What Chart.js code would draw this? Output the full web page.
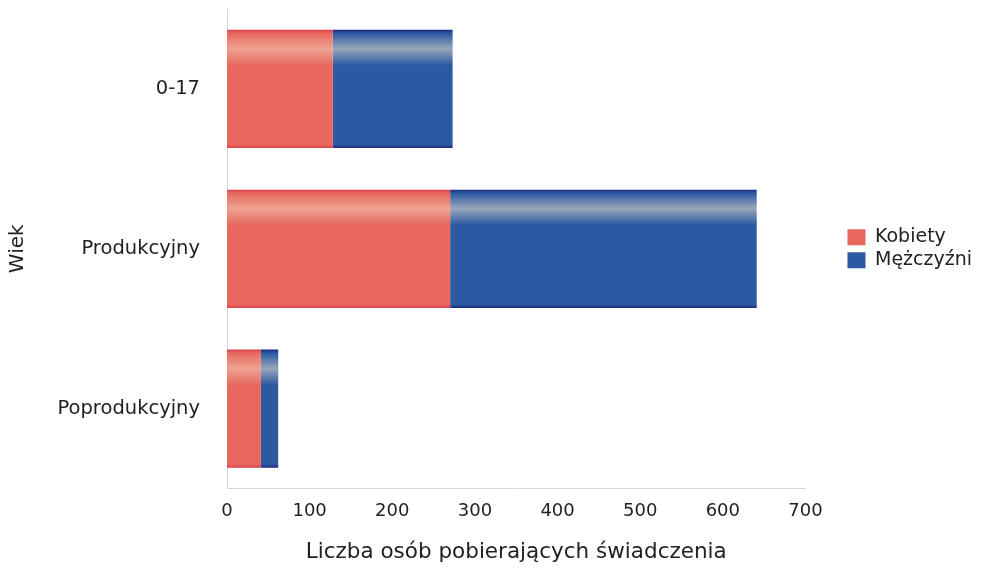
<!DOCTYPE html>
<html>
<head>
<meta charset="utf-8">
<script src="https://cdn.jsdelivr.net/npm/chart.js@4"></script>
<style>
  html, body { margin: 0; padding: 0; background: #fff; }
  #wrap { width: 985px; height: 568px; }
</style>
</head>
<body>
<div id="wrap"><canvas id="bar-chart" width="985" height="568"></canvas></div>
<script>
const categories = ["0-17", "Produkcyjny", "Poprodukcyjny"];
const kobiety = [128, 270, 41];
const mezczyzni = [145, 371, 21];
const xTicks = [0, 100, 200, 300, 400, 500, 600, 700];

const BAR_PCT = 0.74;

// glossy vertical gradient per bar, like the original
function barFill(edge, band, base) {
  return (ctx) => {
    const chart = ctx.chart;
    const y = chart.scales.y;
    if (!y || ctx.type !== "data") return base;
    const step = Math.abs(y.getPixelForValue(1) - y.getPixelForValue(0));
    const c = y.getPixelForValue(ctx.dataIndex);
    const h = step * BAR_PCT;
    const g = chart.ctx.createLinearGradient(0, c - h / 2, 0, c + h / 2);
    g.addColorStop(0, edge);
    g.addColorStop(0.03, base);
    g.addColorStop(0.16, band);
    g.addColorStop(0.3, base);
    g.addColorStop(0.97, base);
    g.addColorStop(1, edge);
    return g;
  };
}

const FAMILY = "'DejaVu Sans', sans-serif";

new Chart("bar-chart", {
  type: "bar",
  data: {
    labels: categories,
    datasets: [
      {
        label: "Kobiety",
        data: kobiety,
        backgroundColor: barFill("#d8404c", "#eea394", "#e8685e"),
        borderWidth: 0,
      },
      {
        label: "Mężczyźni",
        data: mezczyzni,
        backgroundColor: barFill("#1c2a80", "#9aa6ba", "#2c5aa2"),
        borderWidth: 0,
      },
    ],
  },
  options: {
    indexAxis: "y",
    responsive: false,
    animation: false,
    layout: { padding: { left: 6, right: 3, top: 9, bottom: 3 } },
    datasets: { bar: { barPercentage: BAR_PCT, categoryPercentage: 1 } },
    scales: {
      x: {
        stacked: true,
        min: 0,
        max: 700,
        afterBuildTicks: (axis) => {
          axis.ticks = xTicks.map((v) => ({ value: v }));
        },
        grid: { display: false, drawTicks: false },
        border: { display: true, color: "#d8d8d8", dash: [2, 3] },
        ticks: { color: "#222", font: { family: FAMILY, size: 18 }, padding: 12 },
        title: {
          display: true,
          text: "Liczba osób pobierających świadczenia",
          color: "#222",
          font: { family: FAMILY, size: 21.5 },
          padding: { top: 5, bottom: 0 },
        },
      },
      y: {
        stacked: true,
        grid: { display: false, drawTicks: false },
        border: { display: true, color: "#d8d8d8", dash: [2, 3] },
        ticks: { color: "#222", font: { family: FAMILY, size: 19.5 }, padding: 27 },
        title: {
          display: true,
          text: "Wiek",
          color: "#222",
          font: { family: FAMILY, size: 20 },
          padding: { top: 0, bottom: 0 },
        },
        afterFit: (axis) => {
          axis.width = 221;
          axis.paddingTop = 0;
          axis.paddingBottom = 0;
        },
      },
      // empty spacer axis: keeps the gap between plot and legend
      gap: {
        axis: "y",
        type: "category",
        position: "right",
        display: true,
        grid: { display: false, drawTicks: false },
        border: { display: false },
        ticks: { display: false },
        afterFit: (axis) => {
          axis.width = 38;
          axis.paddingTop = 0;
          axis.paddingBottom = 0;
        },
      },
    },
    plugins: {
      legend: {
        position: "right",
        fullSize: false,
        labels: {
          color: "#222",
          font: { family: FAMILY, size: 19 },
          boxWidth: 18,
          boxHeight: 16,
          padding: 4,
          generateLabels: (chart) =>
            chart.data.datasets.map((ds, i) => ({
              text: ds.label,
              fillStyle: ["#e8685e", "#2c5aa2"][i],
              strokeStyle: ["#e8685e", "#2c5aa2"][i],
              lineWidth: 0,
              fontColor: "#222",
              datasetIndex: i,
            })),
        },
      },
      tooltip: { enabled: false },
    },
  },
});
</script>
</body>
</html>
